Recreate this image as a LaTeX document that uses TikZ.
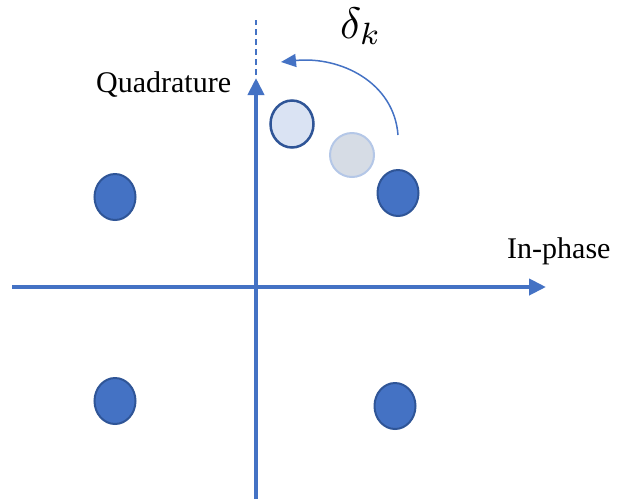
\documentclass[tikz,border=0pt]{standalone}
\usepackage{fontspec}
\setmainfont{Liberation Serif}
\usetikzlibrary{arrows.meta,shapes.geometric}
\definecolor{mainblue}{HTML}{4472C4}
\definecolor{darkblue}{HTML}{2F5597}
\definecolor{lightfill}{HTML}{DAE3F3}
\definecolor{grayfill}{HTML}{D6DCE5}
\definecolor{grayline}{HTML}{B4C7E7}
\tikzset{
  axis/.style={draw=mainblue, line width=4pt, -{Triangle[length=17pt,width=16pt]}},
  dashaxis/.style={draw=mainblue, line width=2pt, dash pattern=on 6pt off 4pt},
  dot/.style={ellipse, draw=darkblue, fill=mainblue, line width=2pt, minimum width=41pt, minimum height=46pt, inner sep=0pt},
  ghost/.style={ellipse, draw=grayline, fill=grayfill, line width=2pt, minimum width=44pt, minimum height=44pt, inner sep=0pt},
  hollow/.style={ellipse, draw=darkblue, fill=lightfill, line width=2.5pt, minimum width=43pt, minimum height=47pt, inner sep=0pt},
  rot/.style={draw=mainblue, line width=1.5pt, -{Triangle[length=15pt,width=13pt]}},
  lbl/.style={font=\fontsize{30}{34}\selectfont, inner sep=0pt}
}
\begin{document}
\begin{tikzpicture}[x=1pt,y=-1pt]
\useasboundingbox (0,0) rectangle (626,499);
% axes
\coordinate (xs) at (12,287);
\coordinate (xe) at (546,287);
\coordinate (ys) at (256,499);
\coordinate (ye) at (256,78);
\coordinate (ds) at (256,75);
\coordinate (de) at (256,20);
\draw[axis] (xs) -- (xe);
\draw[axis] (ys) -- (ye);
\draw[dashaxis] (ds) -- (de);
% constellation points
\node[dot] (ul) at (115,197) {};
\node[dot] (ll) at (115,401) {};
\node[dot] (lr) at (395,406) {};
\node[dot] (ur) at (398,193) {};
\node[ghost] (mid) at (352,155) {};
\node[hollow] (rotd) at (292,124) {};
% rotation arc
\coordinate (as) at (398,135);
\coordinate (ae) at (281,62);
\draw[rot] (as) .. controls (394,82) and (340,56) .. (ae);
% labels
\node[lbl, anchor=base west] (q) at (96,92) {Quadrature};
\node[lbl, anchor=base west] (i) at (507,258) {In-phase};
\node[inner sep=0pt, anchor=base west] (dk) at (340,38) {\scalebox{4.4}{$\delta_k$}};
\end{tikzpicture}
\end{document}
